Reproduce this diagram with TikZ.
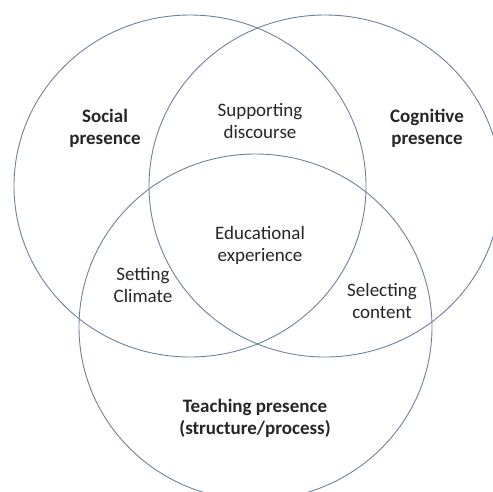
\documentclass[tikz,border=0pt]{standalone}
\usepackage{fontspec}
\setmainfont{Carlito}
\begin{document}
\begin{tikzpicture}[x=1pt,y=-1pt,
  venn/.style={draw=vennline,line width=0.9pt},
  lab/.style={align=center,font=\fontsize{19}{22}\selectfont,text=black!85,inner sep=0pt},
  blab/.style={lab,font=\fontsize{19}{22}\selectfont\bfseries}]
\definecolor{vennline}{HTML}{6F819A}
\useasboundingbox (0,0) rectangle (493,491);
\clip (0,0) rectangle (493,491);
\draw[venn] (190,186) ellipse [x radius=176, y radius=171];
\draw[venn] (325,186) ellipse [x radius=176, y radius=171];
\draw[venn] (255.5,327) ellipse [x radius=176.5, y radius=173];
\node[blab] (social) at (105,128) {Social\\presence};
\node[blab] (cognitive) at (427,128) {Cognitive\\presence};
\node[lab] (support) at (260,121) {Supporting\\discourse};
\node[lab] (edu) at (260,245) {Educational\\experience};
\node[lab] (climate) at (143,285) {Setting\\Climate};
\node[lab] (content) at (382,301) {Selecting\\content};
\node[blab] (teaching) at (255,418) {Teaching presence\\(structure/process)};
\end{tikzpicture}
\end{document}
